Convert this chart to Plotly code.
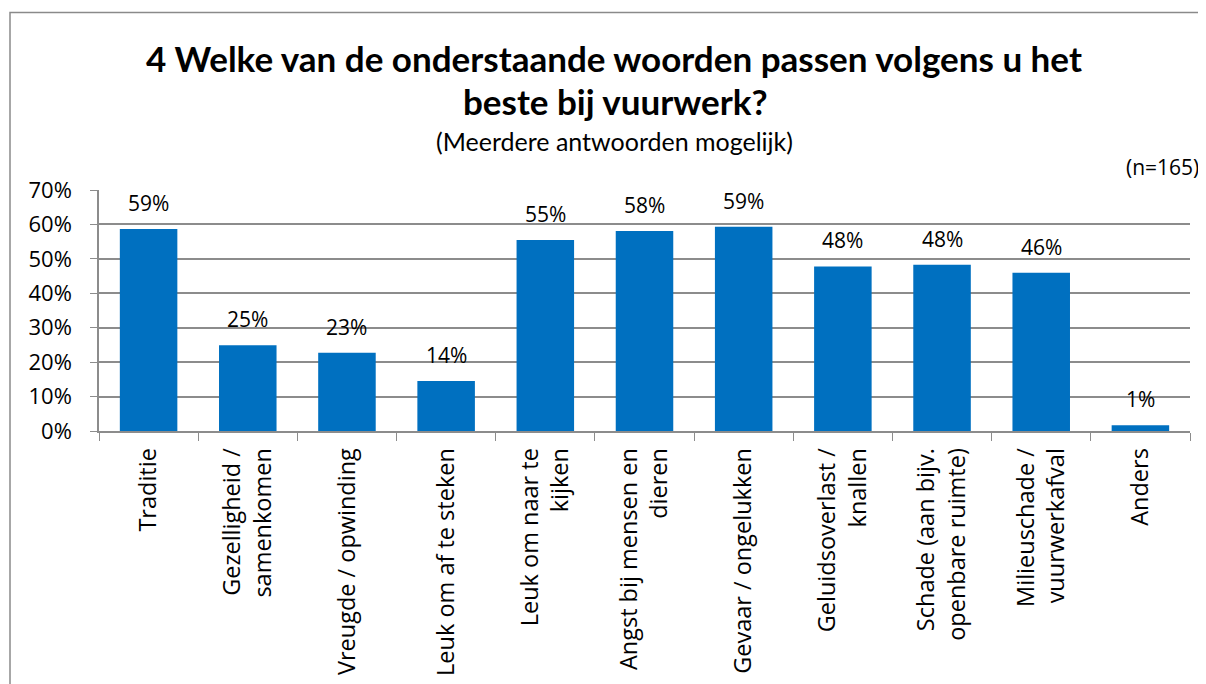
import plotly.graph_objects as go

categories = [
    "Traditie",
    "Gezelligheid /<br>samenkomen",
    "Vreugde / opwinding",
    "Leuk om af te steken",
    "Leuk om naar te<br>kijken",
    "Angst bij mensen en<br>dieren",
    "Gevaar / ongelukken",
    "Geluidsoverlast /<br>knallen",
    "Schade (aan bijv.<br>openbare ruimte)",
    "Milieuschade /<br>vuurwerkafval",
    "Anders",
]
values = [58.7, 24.9, 22.7, 14.5, 55.5, 58.1, 59.3, 47.8, 48.3, 46.0, 1.7]
labels = ["59%", "25%", "23%", "14%", "55%", "58%", "59%", "48%", "48%", "46%", "1%"]
y_ticks = [0, 10, 20, 30, 40, 50, 60, 70]

# page body has an 8px margin; lay out in screen pixels and compensate
OFF = 8
W, H = 1206 - OFF, 684 - OFF
PLOT_L, PLOT_R, PLOT_T, PLOT_B = 99, 1190, 190, 431  # screen px
L = PLOT_L - OFF
T = PLOT_T - OFF
R = W - (PLOT_R - OFF)
B = H - (PLOT_B - OFF)
PW, PH = PLOT_R - PLOT_L, PLOT_B - PLOT_T


def px(x):
    return (x - PLOT_L) / PW


def py(y):
    return (PLOT_B - y) / PH


BLUE = "#0070C0"
GRID = "#8C8C8C"
FONT = "Open Sans"
TFONT = "Lato"

fig = go.Figure()
fig.add_trace(go.Bar(
    x=categories, y=values, marker=dict(color=BLUE, line=dict(width=0)),
    hoverinfo="skip",
))

for c, v, t in zip(categories, values, labels):
    fig.add_annotation(x=c, y=v, text=t, showarrow=False, yanchor="middle",
                       yshift=26, font=dict(family=FONT, size=21, color="black"))

fig.add_annotation(x=px(614), y=py(58), xref="paper", yref="paper", showarrow=False,
                   text="<b>4 Welke van de onderstaande woorden passen volgens u het</b>",
                   font=dict(family=TFONT, size=35, color="black"), xanchor="center", yanchor="middle")
fig.add_annotation(x=px(615), y=py(101), xref="paper", yref="paper", showarrow=False,
                   text="<b>beste bij vuurwerk?</b>",
                   font=dict(family=TFONT, size=35, color="black"), xanchor="center", yanchor="middle")
fig.add_annotation(x=px(614), y=py(141), xref="paper", yref="paper", showarrow=False,
                   text="(Meerdere antwoorden mogelijk)",
                   font=dict(family=TFONT, size=25, color="black"), xanchor="center", yanchor="middle")
fig.add_annotation(x=px(1201), y=py(167), xref="paper", yref="paper", showarrow=False,
                   text="(n=165)",
                   font=dict(family=FONT, size=21, color="black"), xanchor="right", yanchor="middle")

fig.add_shape(type="rect", xref="paper", yref="paper",
              x0=px(10), x1=px(1230), y0=py(720), y1=py(12.5),
              line=dict(color="#8A8A8A", width=1.5), fillcolor="rgba(0,0,0,0)", layer="below")

fig.update_layout(
    width=W, height=H,
    margin=dict(l=L, r=R, t=T, b=B, autoexpand=False),
    paper_bgcolor="white", plot_bgcolor="white",
    showlegend=False, bargap=0.42,
    font=dict(family=FONT, size=21, color="black"),
)
fig.update_xaxes(
    type="category", tickangle=-90, tickson="boundaries", ticks="outside",
    ticklen=8, tickcolor=GRID, showline=True, linecolor=GRID, linewidth=1.5,
    showgrid=False, tickfont=dict(family=FONT, size=23.5, color="black"),
    ticklabelstandoff=6,
)
fig.update_yaxes(
    range=[0, 70], tickvals=y_ticks, ticktext=[f"{v}%" for v in y_ticks],
    ticks="outside", ticklen=7, tickcolor=GRID, showline=True, linecolor=GRID,
    linewidth=1.5, showgrid=True, gridcolor=GRID, gridwidth=1.5, zeroline=False,
    tickfont=dict(family=FONT, size=22, color="black"),
    ticklabelstandoff=14,
)

fig.write_html("out.html")
